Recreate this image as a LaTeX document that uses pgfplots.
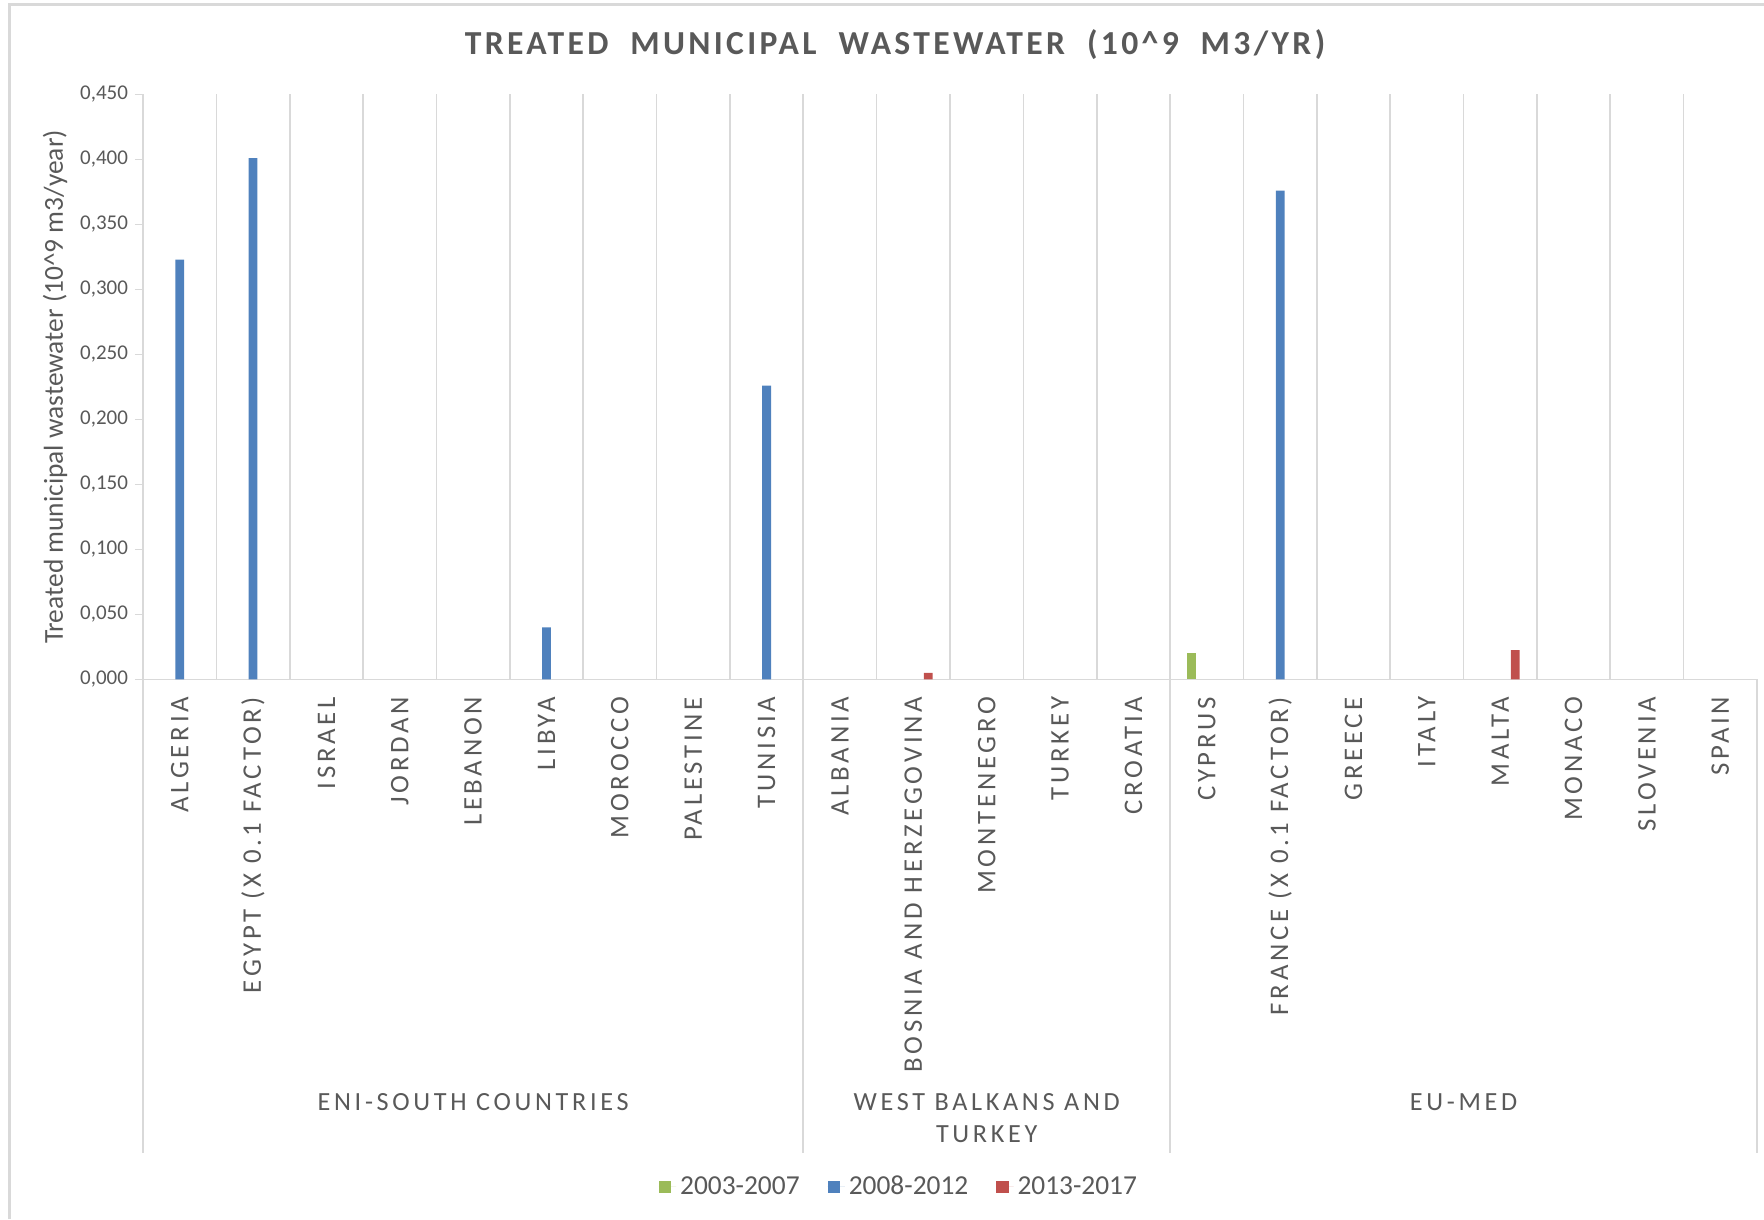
\documentclass[border=0pt]{standalone}
\usepackage{pgfplots}
\pgfplotsset{compat=1.18}
\usepackage{fontspec}
\setmainfont{Carlito}
\newfontfamily\spaced[LetterSpace=14]{Carlito}
\newfontfamily\titlefont[LetterSpace=10]{Carlito}
\definecolor{cgreen}{HTML}{9BBB59}
\definecolor{cblue}{HTML}{4F81BD}
\definecolor{cred}{HTML}{C0504D}
\definecolor{txt}{HTML}{595959}
\definecolor{gridc}{HTML}{D9D9D9}
\begin{document}
\begin{tikzpicture}
\path[use as bounding box] (0,0) rectangle (882pt,609.5pt);
\draw[gridc, line width=1.5pt] (4.5pt,0) -- (4.5pt,607pt) -- (882pt,607pt);
\node[txt, font=\titlefont\bfseries\fontsize{16.8}{18}\selectfont] at (447.5pt,587pt) {TREATED\ \ MUNICIPAL\ \ WASTEWATER\ \ (10\textasciicircum 9\ \ M3/YR)};
\begin{axis}[
  at={(71.5pt,269.75pt)}, anchor=south west,
  scale only axis, width=807pt, height=292.5pt,
  xmin=-0.5, xmax=21.5, ymin=0, ymax=0.45,
  clip=false,
  axis line style={gridc, line width=0.8pt},
  axis x line*=bottom, axis y line*=left,
  ytick={0,0.05,...,0.451},
  yticklabel style={txt, font=\fontsize{10.5}{12}\selectfont, /pgf/number format/.cd, fixed, fixed zerofill, precision=3, use comma, assume math mode=true},
  y tick style={gridc, line width=0.8pt},
  tick align=outside, major tick length=4pt,
  xtick={0,...,21},
  x tick style={draw=none},
  minor xtick={0.5,1.5,...,20.5},
  xminorgrids=true,
  minor grid style={gridc, line width=0.8pt},
  xticklabels={ALGERIA,EGYPT (X 0.1 FACTOR),ISRAEL,JORDAN,LEBANON,LIBYA,MOROCCO,PALESTINE,TUNISIA,ALBANIA,BOSNIA AND HERZEGOVINA,MONTENEGRO,TURKEY,CROATIA,CYPRUS,FRANCE (X 0.1 FACTOR),GREECE,ITALY,MALTA,MONACO,SLOVENIA,SPAIN},
  xticklabel style={txt, font=\spaced\fontsize{13.4}{15}\selectfont, rotate=90, anchor=east, inner sep=0pt},
  xticklabel shift=4.5pt,
  ylabel={Treated municipal wastewater (10\textasciicircum 9 m3/year)},
  ylabel style={txt, font=\fontsize{13.7}{15}\selectfont, at={(axis description cs:-0.0545,0.5)}, anchor=center, rotate=0},
  legend style={at={(0.469,-0.8675)}, anchor=center, draw=none, legend columns=3, font=\fontsize{13.7}{15}\selectfont, text=txt, /tikz/every even column/.append style={column sep=12pt}},
  legend image code/.code={\fill[#1] (0pt,-3.1pt) rectangle (6.2pt,3.1pt); \path (0pt,0pt) -- (8.6pt,0pt);},
]
\addplot[ybar, bar width=4.4pt, bar shift=-7.5pt, fill=cgreen, draw=none] coordinates {(14,0.020)};
\addlegendentry{2003-2007}
\addplot[ybar, bar width=4.4pt, bar shift=0pt, fill=cblue, draw=none] coordinates {(0,0.323) (1,0.401) (5,0.040) (8,0.226) (15,0.376)};
\addlegendentry{2008-2012}
\addplot[ybar, bar width=4.4pt, bar shift=7.5pt, fill=cred, draw=none] coordinates {(10,0.005) (18,0.0225)};
\addlegendentry{2013-2017}
\pgfplotsinvokeforeach{-0.5,8.5,13.5,21.5}{
  \draw[gridc, line width=0.8pt] (axis cs:#1,0) -- ([yshift=-236.75pt]axis cs:#1,0);
}
\node[txt, font=\spaced\fontsize{13.1}{15}\selectfont] at ([yshift=-211.25pt]axis cs:4,0) {ENI-SOUTH COUNTRIES};
\node[txt, font=\spaced\fontsize{13.1}{16}\selectfont, align=center] at ([yshift=-219.25pt]axis cs:11,0) {WEST BALKANS AND\\TURKEY};
\node[txt, font=\spaced\fontsize{13.1}{15}\selectfont] at ([yshift=-211.25pt]axis cs:17.5,0) {EU-MED};
\end{axis}
\end{tikzpicture}
\end{document}
